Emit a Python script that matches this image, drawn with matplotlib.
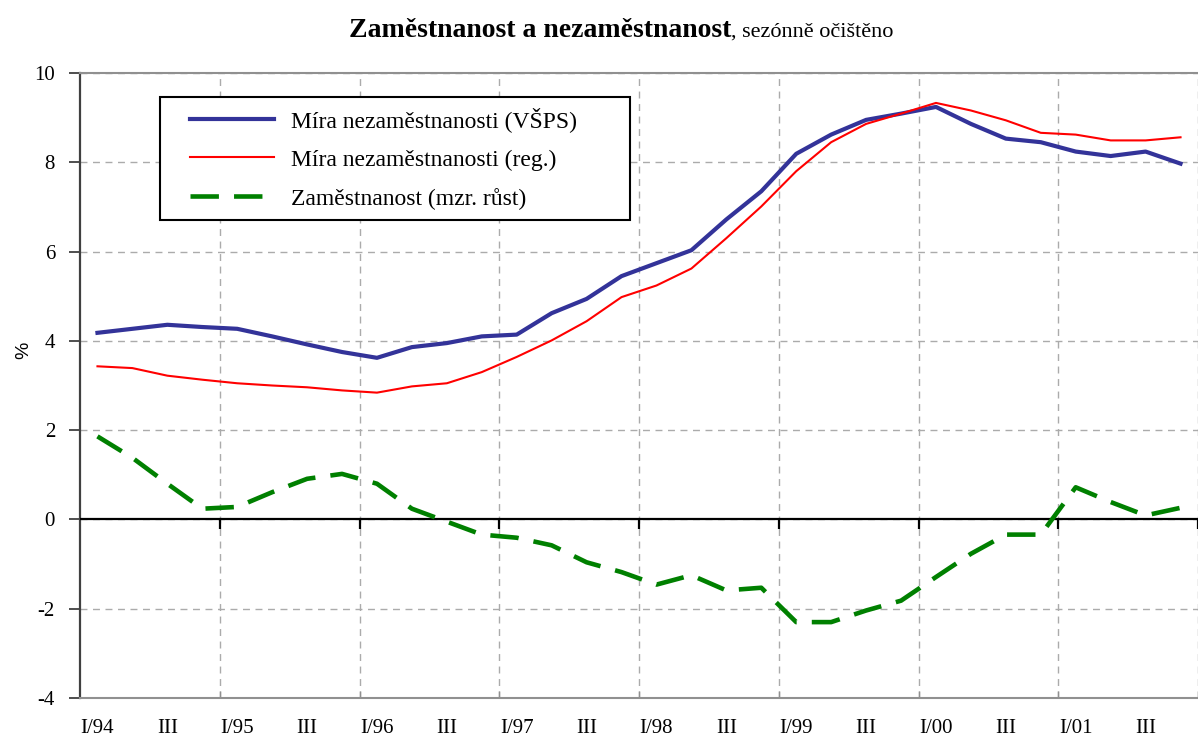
import numpy as np
import matplotlib
matplotlib.use('Agg')
import matplotlib.pyplot as plt
from matplotlib.lines import Line2D
from matplotlib.legend_handler import HandlerLine2D

plt.rcParams['font.family'] = ['Liberation Serif', 'DejaVu Serif']
plt.rcParams['axes.unicode_minus'] = False

# ctvrtleti I/94 .. IV/01
quarters = [f'{q}/{y:02d}' for y in (94, 95, 96, 97, 98, 99, 0, 1)
            for q in ('I', 'II', 'III', 'IV')]
tick_labels = ['I/94', 'III', 'I/95', 'III', 'I/96', 'III', 'I/97', 'III',
               'I/98', 'III', 'I/99', 'III', 'I/00', 'III', 'I/01', 'III']

vsps = [4.18, 4.27, 4.36, 4.31, 4.27, 4.10, 3.92, 3.75, 3.62, 3.86, 3.95, 4.10,
        4.14, 4.62, 4.94, 5.45, 5.74, 6.03, 6.72, 7.35, 8.19, 8.62, 8.95, 9.09,
        9.24, 8.86, 8.53, 8.45, 8.24, 8.14, 8.24, 7.97]
reg = [3.43, 3.39, 3.22, 3.13, 3.05, 3.00, 2.96, 2.89, 2.84, 2.98, 3.05, 3.30,
       3.64, 4.01, 4.44, 4.98, 5.24, 5.62, 6.30, 7.01, 7.80, 8.45, 8.86, 9.09,
       9.33, 9.16, 8.94, 8.66, 8.62, 8.49, 8.49, 8.56]
zam = [1.86, 1.38, 0.80, 0.24, 0.28, 0.61, 0.91, 1.02, 0.80, 0.24, -0.05, -0.34,
       -0.41, -0.58, -0.96, -1.18, -1.46, -1.25, -1.59, -1.53, -2.30, -2.30, -2.04, -1.82,
       -1.29, -0.77, -0.34, -0.34, 0.72, 0.39, 0.09, 0.26]

labels = ['Míra nezaměstnanosti (VŠPS)', 'Míra nezaměstnanosti (reg.)',
          'Zaměstnanost (mzr. růst)']

W, H = 1198, 738
fig = plt.figure(figsize=(W / 100, H / 100), dpi=100)
ax = fig.add_axes([80 / W, 40 / H, 1118 / W, 625 / H])

x = np.arange(len(quarters))
ax.plot(x, vsps, color='#333399', lw=3.0, label=labels[0], zorder=4)
ax.plot(x, reg, color='#ff0000', lw=1.5, label=labels[1], zorder=5)
ax.plot(x, zam, color='#008000', lw=3.3, dashes=(6.2, 3.3), label=labels[2], zorder=4)

ax.set_xlim(-0.5, 31.14)
ax.set_ylim(-4, 10)

# hranice roku
year_bounds = np.arange(3.5, len(quarters), 4)
ax.set_xticks(year_bounds)
ax.set_xticks(np.arange(0, len(quarters), 2), minor=True)
ax.set_xticklabels(tick_labels, minor=True)
ax.tick_params(axis='x', which='major', direction='in', length=5, width=1,
               color='#909090', labelbottom=False)
ax.tick_params(axis='x', which='minor', length=0, pad=15, labelsize=15)

ax.set_yticks(range(-4, 11, 2))
ax.tick_params(axis='y', direction='out', length=8, width=1.3, color='#404040',
               pad=10, labelsize=15)

ax.grid(which='major', color='#ababab', lw=1, ls=(0, (5, 4)))

ax.spines['right'].set_visible(False)
ax.spines['top'].set_color('#909090')
ax.spines['top'].set_linewidth(1.5)
ax.spines['bottom'].set_color('#909090')
ax.spines['bottom'].set_linewidth(1.5)
ax.spines['left'].set_color('#404040')
ax.spines['left'].set_linewidth(1.6)

ax.axhline(0, color='black', lw=1.6, zorder=3)
ax.plot(year_bounds, np.zeros(len(year_bounds)), ls='none', marker=3, ms=7,
        mew=1.6, color='black', clip_on=False, zorder=3)

ax.set_ylabel('%', family=['Liberation Sans', 'DejaVu Sans'], fontsize=14)
ax.yaxis.set_label_coords(-0.043, 0.557)

leg = ax.legend(loc='upper left', bbox_to_anchor=(0.0716, 0.765, 0.4204, 0.1966),
                mode='expand', borderaxespad=0, fancybox=False, framealpha=1,
                edgecolor='black', prop={'family': 'Liberation Serif', 'size': 17},
                handlelength=4.4, handletextpad=0.7, borderpad=0.43,
                labelspacing=0.72,
                handler_map={Line2D: HandlerLine2D(xpad=0.84)})
leg.get_frame().set_linewidth(1.5)

# nadpis: tucna a normalni cast vedle sebe
t1 = fig.text(0, 1 - 37 / H, 'Zaměstnanost a nezaměstnanost', weight='bold',
              fontsize=20, va='baseline', ha='left')
t2 = fig.text(0, 1 - 37 / H, ', sezónně očištěno', fontsize=16,
              va='baseline', ha='left')
fig.canvas.draw()
r = fig.canvas.get_renderer()
w1 = t1.get_window_extent(r).width
w2 = t2.get_window_extent(r).width
x0 = 621 - (w1 + w2) / 2
t1.set_x(x0 / W)
t2.set_x((x0 + w1) / W)

fig.savefig('out.png', dpi=100)
